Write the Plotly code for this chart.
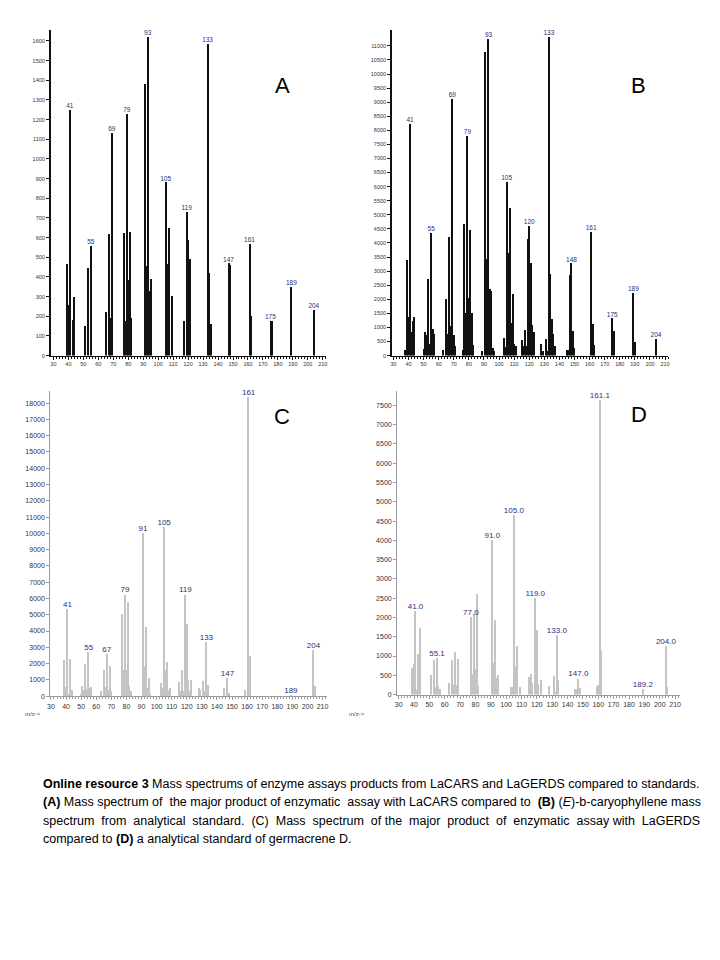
import plotly.graph_objects as go

# ---------------- data ----------------
A_mz = [39,40,41,43,44,51,53,55,65,67,68,69,77,78,79,80,81,82,91,92,93,94,95,105,106,107,109,117,119,120,121,133,134,135,147,148,161,162,175,176,189,204]
A_int = [465,260,1250,180,300,152,445,560,220,620,193,1132,622,175,1231,385,628,190,1382,456,1622,330,388,882,468,650,302,177,731,586,490,1584,419,159,470,460,569,203,178,176,350,232]
A_lab = [41,55,69,79,93,105,119,133,147,161,175,189,204]

B_mz = [38,39,40,41,42,43,44,50,51,52,53,54,55,56,57,63,65,66,67,68,69,70,71,76,77,78,79,80,81,82,83,89,91,92,93,94,95,96,97,103,104,105,106,107,108,109,110,111,115,116,117,118,119,120,121,122,123,128,129,131,132,133,134,135,136,137,145,146,147,148,149,150,161,162,163,175,176,189,190,204]
B_int = [212,3387,1357,8226,830,1240,1390,236,826,744,2715,413,4367,944,767,212,2030,767,4203,1062,9123,744,330,200,4663,1511,7816,2066,4463,1499,378,165,10790,3423,11250,2384,2302,271,165,614,295,6161,3635,5252,1157,2183,413,354,566,354,909,354,4132,4604,3305,1086,826,413,165,590,165,11330,2892,1298,779,354,189,189,2856,3281,873,271,4390,1133,378,1322,873,2243,472,590]
B_lab = [41,55,69,79,93,105,120,133,148,161,175,189,204]

C_mz = [39,40,41,42,43,44,50,51,52,53,54,55,56,57,63,65,66,67,68,69,70,77,78,79,80,81,82,83,91,92,93,94,95,96,103,104,105,106,107,108,109,115,116,117,118,119,120,121,122,123,128,129,131,132,133,134,145,147,148,159,161,162,189,204,205]
C_int = [2220,571,5350,150,2320,408,150,653,408,1960,449,2700,510,571,300,1610,571,2600,408,1870,306,5030,1633,6250,1620,5800,612,306,10041,1840,4270,510,1124,150,816,510,10408,1620,2120,408,510,857,306,1620,306,6250,4420,1020,306,1020,510,408,918,306,3350,714,510,1124,204,408,18400,2500,100,2840,612]
C_lab = [41,55,67,79,91,105,119,133,147,161,189,204]

D_mz = [39,40,41,42,43,44,51,53,54,55,56,57,63,65,66,67,68,69,77,78,79,80,81,82,91,92,93,94,95,103,104,105,106,107,109,115,116,117,119,120,121,123,128,131,132,133,134,145,146,147,148,159,160,161,162,189,204,205]
D_int = [700,785,2160,130,1045,1730,500,895,200,955,217,156,312,894,243,1111,243,938,2023,547,2083,677,2604,217,4020,836,1950,434,503,200,200,4670,746,1259,200,460,547,304,2500,1675,286,373,217,486,69,1545,373,156,156,420,170,200,243,7650,1155,139,1267,200]
D_lab = [41,55,77,91,105,119,133,147,161,189,204]
D_lab_txt = ["41.0","55.1","77.0","91.0","105.0","119.0","133.0","147.0","161.1","189.2","204.0"]

W, H = 720, 960
OFF = 8  # page body margin in the browser
def px(x): return (x - OFF) / W
def py(y): return 1 - (y - OFF) / H

FONT = "Liberation Sans"
LABC = "#2e2e7a"

panels = [
    ("A", A_mz, A_int, A_lab, None, (48.0, 325.0), (30, 356.7), 1656, 100, 1600, "dark"),
    ("B", B_mz, B_int, B_lab, None, (391.6, 669.7), (30, 356.7), 11565, 500, 11000, "dark"),
    ("C", C_mz, C_int, C_lab, None, (47.5, 326.3), (392, 698.3), 18756, 1000, 18000, "light"),
    ("D", D_mz, D_int, D_lab, D_lab_txt, (396.8, 681.4), (392, 696.7), 7880, 500, 7500, "light"),
]
xranges = {"A": [28.2, 212], "B": [29, 212], "C": [29.5, 213], "D": [29, 213]}

fig = go.Figure()
layout = {}
for i, (name, mz, inten, lab, labtxt, xd, yd, ytop, ydt, ymaxtick, style) in enumerate(panels):
    n = "" if i == 0 else str(i + 1)
    xa, ya = "x" + n, "y" + n
    dark = style == "dark"
    fig.add_trace(go.Bar(
        x=mz, y=inten, xaxis=xa, yaxis=ya,
        width=0.9 if dark else 0.7,
        marker=dict(color="#111111" if dark else "#c4c4c4", line=dict(width=0)),
        showlegend=False, hoverinfo="x+y",
    ))
    lookup = dict(zip(mz, inten))
    fig.add_trace(go.Scatter(
        x=lab, y=[lookup[m] for m in lab], xaxis=xa, yaxis=ya,
        mode="text", text=labtxt if labtxt else [str(m) for m in lab],
        textposition="top center",
        textfont=dict(family=FONT, size=6.5 if dark else 8, color=LABC),
        showlegend=False, hoverinfo="skip", cliponaxis=False,
    ))
    axcol = "#111111" if dark else "#9a9a9a"
    layout["xaxis" + n] = dict(
        domain=[px(xd[0]), px(xd[1])], anchor=ya, range=xranges[name],
        tickmode="linear", tick0=30, dtick=10, ticks="outside", ticklen=3,
        tickcolor=axcol, showline=True, linecolor=axcol, linewidth=1,
        showgrid=False, zeroline=False, tickformat="d",
        tickfont=dict(family=FONT, size=5.5 if dark else 7, color="#333333"),
        minor=dict(dtick=2, ticklen=2, tickcolor=axcol, ticks="outside", showgrid=False),
        fixedrange=True,
    )
    layout["yaxis" + n] = dict(
        domain=[py(yd[1]), py(yd[0])], anchor=xa, range=[0, ytop],
        tickmode="array", tickvals=list(range(0, ymaxtick + 1, ydt)),
        ticktext=[str(v) for v in range(0, ymaxtick + 1, ydt)],
        ticks="outside", ticklen=3,
        tickcolor=axcol, showline=True, linecolor=axcol,
        linewidth=1.5 if dark else 1,
        showgrid=False, zeroline=False,
        tickfont=dict(family=FONT, size=5.5 if dark else 7, color="#333333"),
        fixedrange=True,
    )

annotations = []
for letter, (x, y) in zip("ABCD", [(281, 86), (640, 86), (281, 418), (640, 416)]):
    annotations.append(dict(x=px(x), y=py(y), xref="paper", yref="paper", text=letter,
                            showarrow=False, xanchor="center", yanchor="middle",
                            font=dict(family=FONT, size=22, color="#000000")))
for (x, y) in [(30, 716), (356, 716)]:
    annotations.append(dict(x=px(x), y=py(y), xref="paper", yref="paper", text="m/z-&gt;",
                            showarrow=False, xanchor="center", yanchor="middle",
                            font=dict(family=FONT, size=6, color="#3a3a80")))

NB = "\u00a0"
def spread(words, extra_gaps):
    # join words, adding a no-break space in the listed gaps (to mimic justification)
    out = words[0]
    for g, w in enumerate(words[1:]):
        out += (" " + NB if g in extra_gaps else " ") + w
    return out

line2_words = ["<b>(A)</b>", "Mass", "spectrum", "of", "the", "major", "product", "of", "enzymatic",
               "assay", "with", "LaCARS", "compared", "to", "<b>(B)</b>", "(<i>E</i>)-b-caryophyllene", "mass"]
line3_words = ["spectrum", "from", "analytical", "standard.", "(C)", "Mass", "spectrum", "of", "the",
               "major", "product", "of", "enzymatic", "assay", "with", "LaGERDS"]
caption = [
    "<b>Online resource 3</b> Mass spectrums of enzyme assays products from LaCARS and LaGERDS compared to standards.",
    spread(line2_words, {3, 8, 13}),
    spread(line3_words, {0, 1, 2, 3, 4, 5, 6, 8, 9, 10, 11, 12, 14}),
    "compared to <b>(D)</b> a analytical standard of germacrene D.",
]
for k, line in enumerate(caption):
    annotations.append(dict(x=px(38), y=py(786 + 18.7 * k), xref="paper", yref="paper",
                            text=line, showarrow=False, xanchor="left", yanchor="middle",
                            font=dict(family=FONT, size=12.5, color="#000000")))

fig.update_layout(
    width=W, height=H, margin=dict(l=0, r=0, t=0, b=0),
    paper_bgcolor="white", plot_bgcolor="white",
    bargap=0, annotations=annotations, **layout,
)
fig.write_html("out.html")
